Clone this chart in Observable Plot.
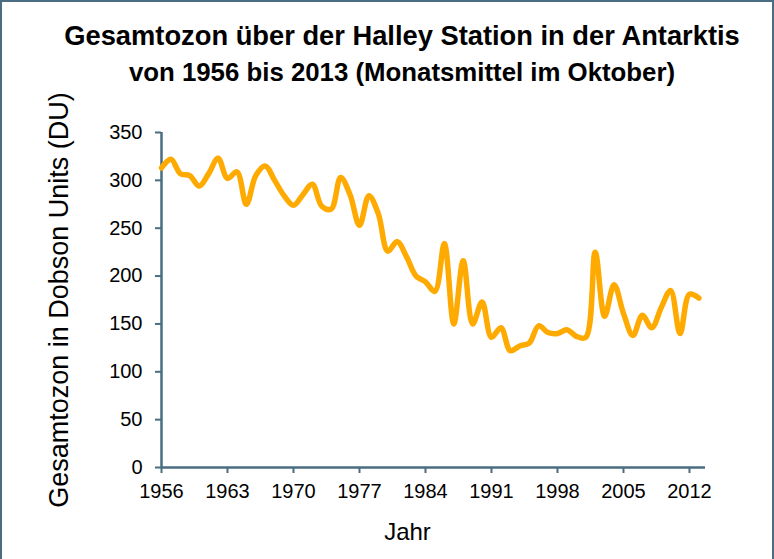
<!DOCTYPE html>
<html><head><meta charset="utf-8">
<script src="https://cdn.jsdelivr.net/npm/d3@7"></script>
<script src="https://cdn.jsdelivr.net/npm/@observablehq/plot@0.6"></script>
<style>
body{margin:0;background:#fff;font-family:"Liberation Sans",Arial,sans-serif;}
#wrap{position:relative;width:774px;height:559px;overflow:hidden;background:#fff;}
#chart{position:absolute;left:0;top:0;}
#frame{position:absolute;left:0;top:0;width:770px;height:559px;border:2px solid #4a6d82;border-bottom:none;pointer-events:none;}
.t{position:absolute;left:0;width:804px;text-align:center;font-weight:bold;color:#000;white-space:nowrap;}
#t1{font-size:27.3px;line-height:27.3px;top:22px;}
#t2{font-size:25.8px;line-height:25.8px;top:60px;}
</style></head>
<body>
<div id="wrap"><div id="chart"></div><div id="frame"></div><div class="t" id="t1"></div><div class="t" id="t2"></div></div>
<script>
const titleLines = ["Gesamtozon über der Halley Station in der Antarktis", "von 1956 bis 2013 (Monatsmittel im Oktober)"];
const xLabel = "Jahr";
const yLabel = "Gesamtozon in Dobson Units (DU)";
const years = [1956,1957,1958,1959,1960,1961,1962,1963,1964,1965,1966,1967,1968,1969,1970,1971,1972,1973,1974,1975,1976,1977,1978,1979,1980,1981,1982,1983,1984,1985,1986,1987,1988,1989,1990,1991,1992,1993,1994,1995,1996,1997,1998,1999,2000,2001,2002,2003,2004,2005,2006,2007,2008,2009,2010,2011,2012,2013];
const ozone = [313,322,307,305,294,307,323,302,309,275,305,315,300,284,274,285,296,273,270,303,285,253,284,265,226,236,220,200,194,184,234,150,216,150,173,136,146,122,127,130,148,141,140,144,137,136,225,158,191,161,138,159,146,167,185,140,181,177];
const xTicks = [1956,1963,1970,1977,1984,1991,1998,2005,2012];
const yTicks = [0,50,100,150,200,250,300,350];

document.getElementById("t1").textContent = titleLines[0];
document.getElementById("t2").textContent = titleLines[1];

const axisColor = "#4a6d82";
const data = years.map((y, i) => ({year: y, value: ozone[i]}));

const chart = Plot.plot({
  width: 774, height: 559,
  marginLeft: 161, marginRight: 69, marginTop: 132, marginBottom: 92,
  style: {fontFamily: "Liberation Sans, Arial, sans-serif", fontSize: "20px", color: "#000", background: "transparent", overflow: "visible"},
  x: {domain: [1956, 2013.7]},
  y: {domain: [0, 350]},
  marks: [
    Plot.axisX({ticks: xTicks, tickFormat: d => String(d), tickSize: 6, tickPadding: 10, stroke: axisColor, strokeWidth: 2, fill: "#000", label: null}),
    Plot.axisY({ticks: yTicks, tickFormat: d => String(d), tickSize: 6, tickPadding: 13, stroke: axisColor, strokeWidth: 2, fill: "#000", label: null}),
    Plot.ruleY([0], {stroke: axisColor, strokeWidth: 2.5}),
    Plot.ruleX([1956], {stroke: axisColor, strokeWidth: 2.5}),
    Plot.line(data, {x: "year", y: "value", stroke: "#ffaa00", strokeWidth: 5.5, curve: "catmull-rom", strokeLinecap: "round", strokeLinejoin: "round"}),
    Plot.text([xLabel], {text: d => d, frameAnchor: "bottom", textAnchor: "middle", lineAnchor: "middle", dx: -26, dy: 65, fontSize: 24, fill: "#000"}),
    Plot.text([yLabel], {text: d => d, frameAnchor: "left", textAnchor: "middle", lineAnchor: "middle", dx: -102, rotate: -90, fontSize: 27, fill: "#000"})
  ]
});
document.getElementById("chart").appendChild(chart);
</script>
</body></html>
